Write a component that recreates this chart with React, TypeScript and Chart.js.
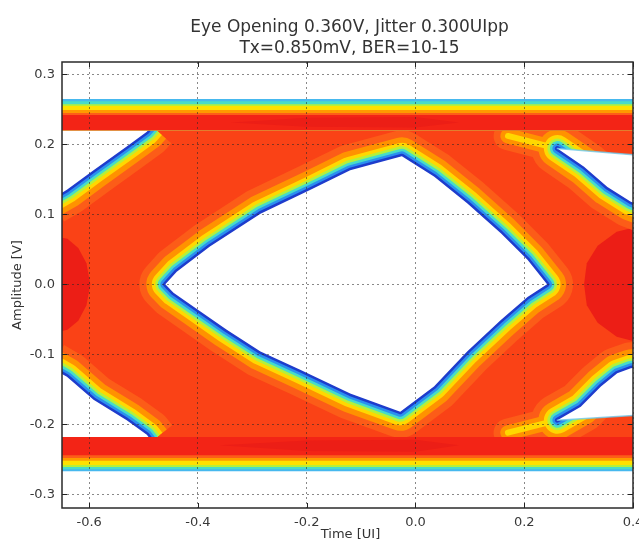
import { useEffect, useRef } from "react";
import { Chart, registerables } from "chart.js";

Chart.register(...registerables);

// ---------- text ----------
const TITLE = ["Eye Opening 0.360V, Jitter 0.300UIpp", "Tx=0.850mV, BER=10-15"];
const X_TITLE = "Time [UI]";
const Y_TITLE = "Amplitude [V]";

// ---------- axes ----------
const X_TICKS = [-0.6, -0.4, -0.2, 0.0, 0.2, 0.4];
const Y_TICKS = [-0.3, -0.2, -0.1, 0.0, 0.1, 0.2, 0.3];
const X_LIMITS = [-0.65, 0.4];
const Y_LIMITS = [-0.3195, 0.3176];

// ---------- signal field between the rails (time, amplitude) ----------
const FIELD_T = [-0.66, 0.42, 0.42, -0.66];
const FIELD_V = [-0.22, -0.22, 0.22, 0.22];

// ---------- eye opening boundary (time [UI], amplitude [V]) ----------
const EYE_T = [-0.46, -0.439, -0.378, -0.285, -0.193, -0.12, -0.025, 0.034, 0.095, 0.157, 0.206, 0.242,
  0.206, 0.157, 0.095, 0.034, -0.028, -0.12, -0.212, -0.285, -0.347, -0.408, -0.445];
const EYE_V = [0.0, 0.018, 0.054, 0.101, 0.135, 0.163, 0.183, 0.154, 0.116, 0.073, 0.035, 0.0,
  -0.018, -0.051, -0.096, -0.146, -0.182, -0.156, -0.122, -0.096, -0.065, -0.032, -0.012];

// ---------- outer transition edges ----------
const TL_EDGE_T = [-0.67, -0.641, -0.592, -0.531, -0.494, -0.485];
const TL_EDGE_V = [0.122, 0.135, 0.163, 0.197, 0.218, 0.226];
const TL_CORNER_T = [-0.485, -0.67];
const TL_CORNER_V = [0.24, 0.24];

const BL_EDGE_T = [-0.67, -0.641, -0.592, -0.531, -0.494, -0.485];
const BL_EDGE_V = [-0.119, -0.132, -0.165, -0.194, -0.215, -0.224];
const BL_CORNER_T = [-0.485, -0.67];
const BL_CORNER_V = [-0.24, -0.24];

const TR_LEAD_T = [0.17, 0.261];
const TR_LEAD_V = [0.212, 0.194];
const TR_EDGE_T = [0.261, 0.31, 0.353, 0.396, 0.43];
const TR_EDGE_V = [0.194, 0.168, 0.139, 0.118, 0.108];
const TR_RAIL_T = [0.43, 0.261];
const TR_RAIL_V = [0.183, 0.194];

const BR_LEAD_T = [0.17, 0.261];
const BR_LEAD_V = [-0.212, -0.194];
const BR_EDGE_T = [0.261, 0.304, 0.341, 0.371, 0.396, 0.43];
const BR_EDGE_V = [-0.194, -0.175, -0.146, -0.127, -0.12, -0.117];
const BR_RAIL_T = [0.43, 0.261];
const BR_RAIL_V = [-0.186, -0.194];

// ---------- rails: inner edge and contour levels (outer -> inner) ----------
const TOP_RAIL_INNER = 0.22;
const TOP_RAIL_LEVELS = [0.2646, 0.2617, 0.2574, 0.2546, 0.2489, 0.2446, 0.2418];
const BOT_RAIL_INNER = -0.218;
const BOT_RAIL_LEVELS = [-0.267, -0.264, -0.261, -0.258, -0.252, -0.248, -0.244];

// ---------- high-density (deep red) regions ----------
const DENSE_LEFT_T = [-0.66, -0.64, -0.62, -0.605, -0.598, -0.605, -0.62, -0.64, -0.66];
const DENSE_LEFT_V = [0.068, 0.065, 0.052, 0.03, 0.0, -0.03, -0.052, -0.065, -0.068];
const DENSE_RIGHT_T = [0.42, 0.37, 0.335, 0.315, 0.31, 0.315, 0.335, 0.37, 0.42];
const DENSE_RIGHT_V = [0.085, 0.075, 0.055, 0.03, 0.0, -0.03, -0.055, -0.075, -0.085];
const DENSE_TOP_T = [-0.34, -0.2, 0.0, 0.08, 0.0, -0.2];
const DENSE_TOP_V = [0.231, 0.225, 0.224, 0.231, 0.239, 0.238];
const DENSE_BOT_T = [-0.36, -0.2, 0.0, 0.08, 0.0, -0.2];
const DENSE_BOT_V = [-0.23, -0.223, -0.222, -0.23, -0.239, -0.238];

// ---------- styles ----------
const FONT = '"DejaVu Sans", "Liberation Sans", sans-serif';
const MAIN_RED = "rgb(250,66,22)";
const RAIL_RED = "rgb(243,36,22)";
const DEEP_RED = "rgb(236,30,22)";
const WHITE = "#ffffff";
const RAIL_COLORS = ["#46b8ee", "#4adcc8", "#b4f03c", "#ffe100", "#ff9a00", "#fd5e18", RAIL_RED];
const STROKE_LAYERS: [number, string][] = [
  [52, "#fc5c18"],
  [38, "#ff9200"],
  [27, "#ffd800"],
  [20, "#b4f03c"],
  [15, "#46dcc8"],
  [10, "#2a90f0"],
  [5, "#1e3ccc"],
];
const LEAD_SCALE = [0.55, 0.4, 0.22];

const pts = (xs: number[], ys: number[]) => xs.map((x, i) => ({ x, y: ys[i] }));

function polygon(xs: number[], ys: number[], color: string) {
  return {
    data: pts(xs, ys),
    showLine: true,
    fill: "shape",
    backgroundColor: color,
    borderColor: "transparent",
    borderWidth: 0,
    pointRadius: 0,
    tension: 0,
    clip: 0,
  };
}

function stroke(xs: number[], ys: number[], color: string, width: number, cap = "round") {
  return {
    data: pts(xs, ys),
    showLine: true,
    fill: false,
    borderColor: color,
    borderWidth: width,
    borderJoinStyle: "round",
    borderCapStyle: cap,
    pointRadius: 0,
    tension: 0,
    clip: 0,
  };
}

function buildDatasets() {
  const list: any[] = [];
  list.push(polygon(FIELD_T, FIELD_V, MAIN_RED));
  list.push(polygon(DENSE_LEFT_T, DENSE_LEFT_V, DEEP_RED));
  list.push(polygon(DENSE_RIGHT_T, DENSE_RIGHT_V, DEEP_RED));

  const eyeClosedT = [...EYE_T, EYE_T[0], EYE_T[1]];
  const eyeClosedV = [...EYE_V, EYE_V[0], EYE_V[1]];
  const edges: [number[], number[], string][] = [
    [eyeClosedT, eyeClosedV, "round"],
    [TL_EDGE_T, TL_EDGE_V, "butt"],
    [BL_EDGE_T, BL_EDGE_V, "butt"],
    [TR_EDGE_T, TR_EDGE_V, "round"],
    [BR_EDGE_T, BR_EDGE_V, "round"],
  ];
  STROKE_LAYERS.forEach(([w, c], li) => {
    if (li < LEAD_SCALE.length) {
      list.push(stroke(TR_LEAD_T, TR_LEAD_V, c, w * LEAD_SCALE[li], "round"));
      list.push(stroke(BR_LEAD_T, BR_LEAD_V, c, w * LEAD_SCALE[li], "round"));
    }
    for (const [t, v, cap] of edges) list.push(stroke(t, v, c, w, cap));
  });

  // white openings
  list.push(polygon(EYE_T, EYE_V, WHITE));
  list.push(polygon([...TL_EDGE_T, ...TL_CORNER_T], [...TL_EDGE_V, ...TL_CORNER_V], WHITE));
  list.push(polygon([...BL_EDGE_T, ...BL_CORNER_T], [...BL_EDGE_V, ...BL_CORNER_V], WHITE));
  list.push(polygon([...TR_EDGE_T, ...TR_RAIL_T], [...TR_EDGE_V, ...TR_RAIL_V], WHITE));
  list.push(polygon([...BR_EDGE_T, ...BR_RAIL_T], [...BR_EDGE_V, ...BR_RAIL_V], WHITE));
  list.push(stroke(TR_RAIL_T, TR_RAIL_V, "rgba(110,200,235,0.8)", 1.5));
  list.push(stroke(BR_RAIL_T, BR_RAIL_V, "rgba(110,200,235,0.8)", 1.5));

  // rails
  const railT = [X_LIMITS[0] - 0.01, X_LIMITS[1] + 0.01, X_LIMITS[1] + 0.01, X_LIMITS[0] - 0.01];
  TOP_RAIL_LEVELS.forEach((lv, i) => {
    list.push(polygon(railT, [TOP_RAIL_INNER, TOP_RAIL_INNER, lv, lv], RAIL_COLORS[i]));
  });
  BOT_RAIL_LEVELS.forEach((lv, i) => {
    list.push(polygon(railT, [BOT_RAIL_INNER, BOT_RAIL_INNER, lv, lv], RAIL_COLORS[i]));
  });
  list.push(polygon(DENSE_TOP_T, DENSE_TOP_V, DEEP_RED));
  list.push(polygon(DENSE_BOT_T, DENSE_BOT_V, DEEP_RED));

  const n = list.length;
  list.forEach((d, i) => (d.order = n - i));
  return list;
}

const decor = {
  id: "decor",
  afterDraw(chart: any) {
    const { ctx, chartArea: a, scales } = chart;
    const xs = scales.x;
    const ys = scales.y;
    ctx.save();
    // inner tick marks
    ctx.strokeStyle = "#222";
    ctx.lineWidth = 1;
    ctx.beginPath();
    for (const v of X_TICKS) {
      const p = Math.round(xs.getPixelForValue(v)) + 0.5;
      ctx.moveTo(p, a.bottom);
      ctx.lineTo(p, a.bottom - 5);
      ctx.moveTo(p, a.top);
      ctx.lineTo(p, a.top + 5);
    }
    for (const v of Y_TICKS) {
      const p = Math.round(ys.getPixelForValue(v)) + 0.5;
      ctx.moveTo(a.left, p);
      ctx.lineTo(a.left + 5, p);
      ctx.moveTo(a.right, p);
      ctx.lineTo(a.right - 5, p);
    }
    ctx.stroke();
    // frame
    ctx.strokeStyle = "#2a2a2a";
    ctx.lineWidth = 1.5;
    ctx.strokeRect(a.left, a.top, a.right - a.left, a.bottom - a.top);
    // titles
    ctx.fillStyle = "#333";
    ctx.textAlign = "center";
    ctx.textBaseline = "alphabetic";
    ctx.font = `17px ${FONT}`;
    const cx = (a.left + a.right) / 2;
    ctx.fillText(TITLE[0], cx + 2, 32);
    ctx.fillText(TITLE[1], cx + 2, 53);
    ctx.font = `13px ${FONT}`;
    ctx.textBaseline = "middle";
    ctx.fillText(X_TITLE, cx + 3, 535);
    ctx.translate(18, (a.top + a.bottom) / 2);
    ctx.rotate(-Math.PI / 2);
    ctx.fillText(Y_TITLE, 0, 0);
    ctx.restore();
  },
};

export default function App() {
  const ref = useRef<HTMLCanvasElement>(null);
  useEffect(() => {
    const tickFont = { family: FONT, size: 13 };
    const chart = new Chart(ref.current as HTMLCanvasElement, {
      type: "line",
      data: { datasets: buildDatasets() },
      options: {
        responsive: false,
        animation: false,
        devicePixelRatio: 1,
        events: [],
        layout: { padding: { top: 62, right: 6, bottom: 0, left: 0 } },
        plugins: {
          legend: { display: false },
          tooltip: { enabled: false },
          title: { display: false },
        },
        elements: { point: { radius: 0, hoverRadius: 0 }, line: { tension: 0 } },
        scales: {
          x: {
            type: "linear",
            min: X_LIMITS[0],
            max: X_LIMITS[1],
            afterBuildTicks: (s: any) => {
              s.ticks = X_TICKS.map((v) => ({ value: v }));
            },
            afterFit: (s: any) => {
              s.height = 36;
              s.paddingLeft = 0;
              s.paddingRight = 0;
            },
            ticks: {
              callback: (v: any) => Number(v).toFixed(1),
              font: tickFont,
              color: "#383838",
              padding: 7,
              maxRotation: 0,
              autoSkip: false,
            },
            grid: { color: "rgba(40,40,40,0.55)", lineWidth: 1, drawTicks: false, z: 1, borderDash: [2, 3] },
            border: { display: false, dash: [2, 3] },
          },
          y: {
            type: "linear",
            min: Y_LIMITS[0],
            max: Y_LIMITS[1],
            afterBuildTicks: (s: any) => {
              s.ticks = Y_TICKS.map((v) => ({ value: v }));
            },
            afterFit: (s: any) => {
              s.width = 62;
              s.paddingTop = 0;
              s.paddingBottom = 0;
            },
            ticks: {
              callback: (v: any) => Number(v).toFixed(1),
              font: tickFont,
              color: "#383838",
              padding: 7,
              autoSkip: false,
            },
            grid: { color: "rgba(40,40,40,0.55)", lineWidth: 1, drawTicks: false, z: 1, borderDash: [2, 3] },
            border: { display: false, dash: [2, 3] },
          },
        },
      } as any,
      plugins: [decor],
    });
    return () => chart.destroy();
  }, []);
  return (
    <div style={{ position: "absolute", left: 0, top: 0, width: 639, height: 544, background: "#fff" }}>
      <canvas ref={ref} width={639} height={544} style={{ display: "block", width: 639, height: 544 }} />
    </div>
  );
}
